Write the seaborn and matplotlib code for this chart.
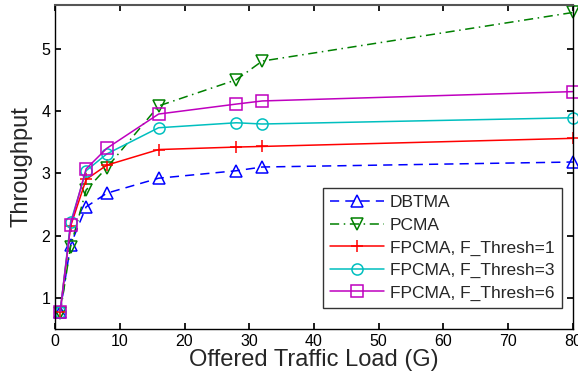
import matplotlib
matplotlib.use("Agg")
import matplotlib.pyplot as plt
import seaborn as sns
import pandas as pd

load = [0.8, 2.4, 4.8, 8, 16, 28, 32, 80]
dbtma = [0.78, 1.85, 2.46, 2.68, 2.92, 3.04, 3.10, 3.18]
pcma = [0.76, 1.82, 2.73, 3.09, 4.08, 4.50, 4.80, 5.58]
fp1 = [0.78, 2.15, 2.90, 3.13, 3.38, 3.42, 3.43, 3.56]
fp3 = [0.78, 2.21, 3.04, 3.31, 3.73, 3.81, 3.79, 3.89]
fp6 = [0.78, 2.17, 3.07, 3.40, 3.95, 4.11, 4.16, 4.31]
labels = ["DBTMA", "PCMA", "FPCMA, F_Thresh=1", "FPCMA, F_Thresh=3", "FPCMA, F_Thresh=6"]

sns.set_theme(style="ticks")
plt.rcParams['font.family'] = ['Liberation Sans', 'DejaVu Sans']

fig = plt.figure(figsize=(5.78, 3.84), dpi=100)
ax = fig.add_axes([0.0952, 0.1432, 0.8961, 0.8438])

styles = [
    dict(color=(0, 0, 1), marker='^', linestyle=(0, (6, 4))),
    dict(color=(0, 0.5, 0), marker='v', linestyle=(0, (6, 3, 1, 3))),
    dict(color=(1, 0, 0), marker='+', linestyle='-'),
    dict(color=(0, 0.75, 0.75), marker='o', linestyle='-'),
    dict(color=(0.75, 0, 0.75), marker='s', linestyle='-'),
]
series = [dbtma, pcma, fp1, fp3, fp6]
for lab, vals, st in zip(labels, series, styles):
    df = pd.DataFrame({"G": load, "T": vals})
    sns.lineplot(data=df, x="G", y="T", ax=ax, label=lab, color=st['color'],
                 marker=st['marker'], linestyle=st['linestyle'], linewidth=1.1,
                 markersize=8 if st['marker'] != '+' else 9,
                 markerfacecolor='none', markeredgecolor=st['color'],
                 markeredgewidth=1.1, clip_on=False)

ax.set_xlim(0, 80)
ax.set_ylim(0.5, 5.7)
ax.set_xticks(range(0, 81, 10))
ax.set_yticks([1, 2, 3, 4, 5])
ax.tick_params(direction='in', top=True, right=True, labelsize=11.5, length=4, colors='black')
for sp in ax.spines.values():
    sp.set_visible(True)
    sp.set_color('black')
    sp.set_linewidth(1.0)
ax.spines['top'].set_color('#555555')
ax.spines['top'].set_linewidth(1.5)
ax.set_xlabel("Offered Traffic Load (G)", fontsize=17, labelpad=0)
ax.set_ylabel("Throughput", fontsize=17, labelpad=6)

leg = ax.legend(loc='lower right', bbox_to_anchor=(0.978, 0.066), fontsize=12.5,
                handlelength=3.1, frameon=True, fancybox=False, borderpad=0.4,
                labelspacing=0.42, handletextpad=0.35, borderaxespad=0)
leg.get_frame().set_edgecolor('black')
leg.get_frame().set_linewidth(1.0)

fig.savefig("out.png", dpi=100)
